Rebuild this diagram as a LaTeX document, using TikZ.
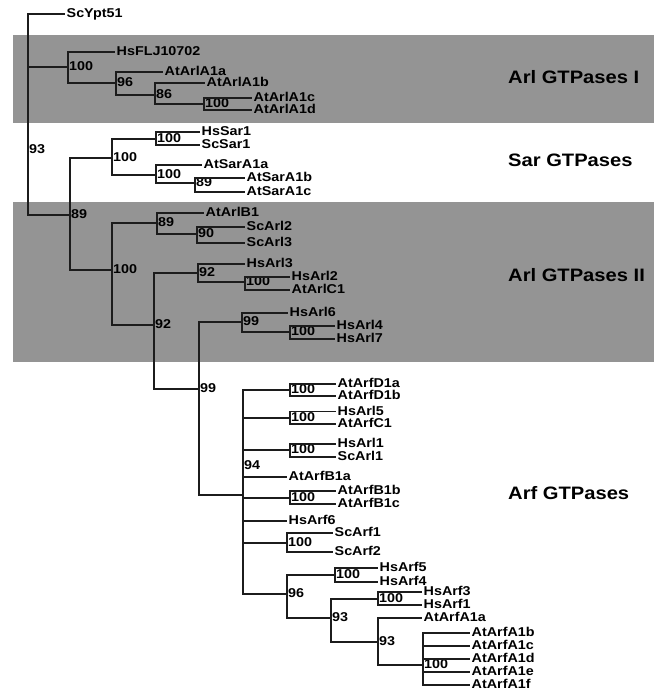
\documentclass[tikz,border=0pt]{standalone}
\usepackage{fontspec}
\setmainfont{Liberation Sans}[FakeStretch=1.12]
\usepackage{xcolor}
\definecolor{bandgray}{RGB}{148,148,148}
\definecolor{treeline}{RGB}{28,28,28}

\begin{document}
\begin{tikzpicture}[x=1pt,y=-1pt,
  leaf/.style={anchor=west,inner xsep=1.5pt,inner ysep=.5pt,font=\fontsize{12.8}{12.8}\selectfont\bfseries,text height=1.45ex,text depth=.1ex},
  boot/.style={leaf,inner xsep=1pt},
  group/.style={anchor=west,inner sep=0pt,font=\fontsize{18}{18}\selectfont\bfseries},
  band/.style={fill=bandgray},
  branch/.style={draw=treeline,line width=1.9pt,to path={|- (\tikztotarget)}}]
\useasboundingbox (0,0) rectangle (660,690);
\fill[band] (13,35) rectangle (654,123);
\fill[band] (13,202) rectangle (654,362);

\node[group] (arl1) at (508,77) {Arl GTPases I};
\node[group] (sar) at (508,160) {Sar GTPases};
\node[group] (arl2) at (508,275) {Arl GTPases II};
\node[group] (arf) at (508,493) {Arf GTPases};

\coordinate (r) at (28,150);
\coordinate (a) at (68,67);
\coordinate (a2) at (116,83);
\coordinate (a3) at (155,95);
\coordinate (a4) at (204,104);
\coordinate (s0) at (70,215);
\coordinate (s) at (112,158);
\coordinate (s1) at (156,139);
\coordinate (s2) at (156,175);
\coordinate (s3) at (195,183);
\coordinate (b) at (112,270);
\coordinate (b1) at (157,223);
\coordinate (b2) at (197,234);
\coordinate (b3) at (154,325);
\coordinate (b4) at (198,273);
\coordinate (b5) at (245,282);
\coordinate (b6) at (199,389);
\coordinate (b7) at (242,322);
\coordinate (b8) at (290,332);
\coordinate (f) at (243,495);
\coordinate (f1) at (290,390);
\coordinate (f2) at (290,418);
\coordinate (f3) at (290,450);
\coordinate (f4) at (290,498);
\coordinate (f5) at (287,543);
\coordinate (f6) at (287,594);
\coordinate (f7) at (335,575);
\coordinate (f8) at (331,618);
\coordinate (f9) at (378,599);
\coordinate (f10) at (378,642);
\coordinate (f11) at (423,665);

\node[leaf] (scypt51) at (65,14) {ScYpt51};
\node[leaf] (hsflj) at (115,52) {HsFLJ10702};
\node[leaf] (atarla1a) at (163,72) {AtArlA1a};
\node[leaf] (atarla1b) at (205,83) {AtArlA1b};
\node[leaf] (atarla1c) at (252,98) {AtArlA1c};
\node[leaf] (atarla1d) at (252,110) {AtArlA1d};
\node[leaf] (hssar1) at (200,132) {HsSar1};
\node[leaf] (scsar1) at (200,145) {ScSar1};
\node[leaf] (atsara1a) at (202,165) {AtSarA1a};
\node[leaf] (atsara1b) at (245,178) {AtSarA1b};
\node[leaf] (atsara1c) at (245,192) {AtSarA1c};
\node[leaf] (atarlb1) at (204,213) {AtArlB1};
\node[leaf] (scarl2) at (245,227) {ScArl2};
\node[leaf] (scarl3) at (245,243) {ScArl3};
\node[leaf] (hsarl3) at (245,264) {HsArl3};
\node[leaf] (hsarl2) at (290,277) {HsArl2};
\node[leaf] (atarlc1) at (290,290) {AtArlC1};
\node[leaf] (hsarl6) at (288,313) {HsArl6};
\node[leaf] (hsarl4) at (335,326) {HsArl4};
\node[leaf] (hsarl7) at (335,339) {HsArl7};
\node[leaf] (atarfd1a) at (336,384) {AtArfD1a};
\node[leaf] (atarfd1b) at (336,396) {AtArfD1b};
\node[leaf] (hsarl5) at (336,411.5) {HsArl5};
\node[leaf] (atarfc1) at (336,424) {AtArfC1};
\node[leaf] (hsarl1) at (336,444) {HsArl1};
\node[leaf] (scarl1) at (336,457) {ScArl1};
\node[leaf] (atarfb1a) at (287,477) {AtArfB1a};
\node[leaf] (atarfb1b) at (336,491) {AtArfB1b};
\node[leaf] (atarfb1c) at (336,504) {AtArfB1c};
\node[leaf] (hsarf6) at (287,521) {HsArf6};
\node[leaf] (scarf1) at (333,533) {ScArf1};
\node[leaf] (scarf2) at (333,552) {ScArf2};
\node[leaf] (hsarf5) at (378,568) {HsArf5};
\node[leaf] (hsarf4) at (378,582) {HsArf4};
\node[leaf] (hsarf3) at (422,592) {HsArf3};
\node[leaf] (hsarf1) at (422,605) {HsArf1};
\node[leaf] (atarfa1a) at (422,618) {AtArfA1a};
\node[leaf] (atarfa1b) at (470,633) {AtArfA1b};
\node[leaf] (atarfa1c) at (470,646) {AtArfA1c};
\node[leaf] (atarfa1d) at (470,659) {AtArfA1d};
\node[leaf] (atarfa1e) at (470,672) {AtArfA1e};
\node[leaf] (atarfa1f) at (470,685) {AtArfA1f};

\node[boot] (lr) at (r) {93};
\node[boot] (la) at (a) {100};
\node[boot] (la2) at (a2) {96};
\node[boot] (la3) at (a3) {86};
\node[boot] (la4) at (a4) {100};
\node[boot] (ls0) at (s0) {89};
\node[boot] (ls) at (s) {100};
\node[boot] (ls1) at (s1) {100};
\node[boot] (ls2) at (s2) {100};
\node[boot] (ls3) at (s3) {89};
\node[boot] (lb) at (b) {100};
\node[boot] (lb1) at (b1) {89};
\node[boot] (lb2) at (b2) {90};
\node[boot] (lb3) at (b3) {92};
\node[boot] (lb4) at (b4) {92};
\node[boot] (lb5) at (b5) {100};
\node[boot] (lb6) at (b6) {99};
\node[boot] (lb7) at (b7) {99};
\node[boot] (lb8) at (b8) {100};
\node[boot] (lf) at (243,466) {94};
\node[boot] (lf1) at (f1) {100};
\node[boot] (lf2) at (f2) {100};
\node[boot] (lf3) at (f3) {100};
\node[boot] (lf4) at (f4) {100};
\node[boot] (lf5) at (f5) {100};
\node[boot] (lf6) at (f6) {96};
\node[boot] (lf7) at (f7) {100};
\node[boot] (lf8) at (f8) {93};
\node[boot] (lf9) at (f9) {100};
\node[boot] (lf10) at (f10) {93};
\node[boot] (lf11) at (f11) {100};

\path[every edge/.style=branch]
    (r) edge (scypt51)
    (r) edge (a)
    (r) edge (s0)

    (a) edge (hsflj)
    (a) edge (a2)
    (a2) edge (atarla1a)
    (a2) edge (a3)
    (a3) edge (atarla1b)
    (a3) edge (a4)
    (a4) edge (atarla1c)
    (a4) edge (atarla1d)

    (s0) edge (s)
    (s0) edge (b)
    (s) edge (s1)
    (s) edge (s2)
    (s1) edge (hssar1)
    (s1) edge (scsar1)
    (s2) edge (atsara1a)
    (s2) edge (s3)
    (s3) edge (atsara1b)
    (s3) edge (atsara1c)

    (b) edge (b1)
    (b) edge (b3)
    (b1) edge (atarlb1)
    (b1) edge (b2)
    (b2) edge (scarl2)
    (b2) edge (scarl3)
    (b3) edge (b4)
    (b3) edge (b6)
    (b4) edge (hsarl3)
    (b4) edge (b5)
    (b5) edge (hsarl2)
    (b5) edge (atarlc1)
    (b6) edge (b7)
    (b6) edge (f)
    (b7) edge (hsarl6)
    (b7) edge (b8)
    (b8) edge (hsarl4)
    (b8) edge (hsarl7)

    (f) edge (f1)
    (f) edge (f2)
    (f) edge (f3)
    (f) edge (atarfb1a)
    (f) edge (f4)
    (f) edge (hsarf6)
    (f) edge (f5)
    (f) edge (f6)
    (f1) edge (atarfd1a)
    (f1) edge (atarfd1b)
    (f2) edge (hsarl5)
    (f2) edge (atarfc1)
    (f3) edge (hsarl1)
    (f3) edge (scarl1)
    (f4) edge (atarfb1b)
    (f4) edge (atarfb1c)
    (f5) edge (scarf1)
    (f5) edge (scarf2)
    (f6) edge (f7)
    (f6) edge (f8)
    (f7) edge (hsarf5)
    (f7) edge (hsarf4)
    (f8) edge (f9)
    (f8) edge (f10)
    (f9) edge (hsarf3)
    (f9) edge (hsarf1)
    (f10) edge (atarfa1a)
    (f10) edge (f11)
    (f11) edge (atarfa1b)
    (f11) edge (atarfa1c)
    (f11) edge (atarfa1d)
    (f11) edge (atarfa1e)
    (f11) edge (atarfa1f)
    ;
\end{tikzpicture}
\end{document}
